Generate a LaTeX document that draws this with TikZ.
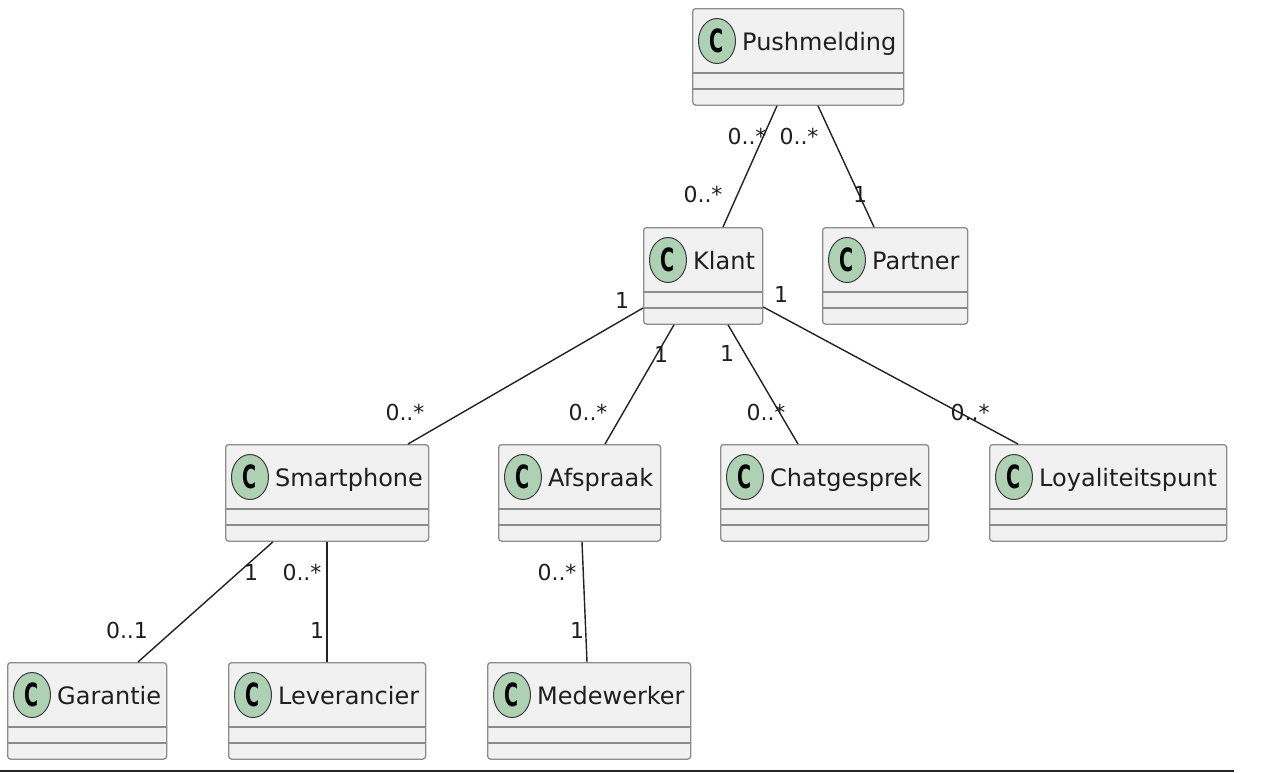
\documentclass[tikz,border=0pt]{standalone}
\usepackage{fontspec}
\setmainfont{DejaVu Sans}
\usetikzlibrary{shapes.geometric,calc}
\definecolor{boxfill}{HTML}{F1F1F1}
\definecolor{boxline}{HTML}{8C8C8C}
\definecolor{circfill}{HTML}{ADD1B2}
\definecolor{circline}{HTML}{3A3A3A}
\definecolor{edgecol}{HTML}{222222}
\tikzset{
  classbox/.style={draw=boxline, fill=boxfill, line width=1.3pt, rounded corners=3pt,
    inner sep=0pt, minimum height=96.5pt, anchor=north west},
  divline/.style={draw=boxline, line width=1.3pt},
  circ/.style={ellipse, draw=circline, fill=circfill, line width=1pt, inner sep=0pt,
    minimum width=37pt, minimum height=45pt,
    font=\fontsize{32}{32}\selectfont\bfseries},
  cname/.style={inner sep=0pt, anchor=base west, text=black!88,
    font=\fontsize{24}{28}\selectfont},
  lab/.style={inner sep=0pt, text=black!88, font=\fontsize{22}{26}\selectfont},
  assoc/.style={draw=edgecol, line width=1.4pt},
}
\newcommand\umlclass[5]{%
  \node[classbox, minimum width=#4pt] (#1) at (#2,#3) {};
  \draw[divline] ([yshift=-65pt]#1.north west) -- ([yshift=-65pt]#1.north east);
  \draw[divline] ([yshift=-81pt]#1.north west) -- ([yshift=-81pt]#1.north east);
  \node[circ] (#1c) at ([xshift=25pt,yshift=-33pt]#1.north west) {\scalebox{0.6}[1]{C}};
  \node[cname] (#1t) at ([xshift=50pt,yshift=-42pt]#1.north west) {#5};
}
\begin{document}
\begin{tikzpicture}[x=1pt,y=-1pt]
\useasboundingbox (0,0) rectangle (1270,772);

\umlclass{push}{692}{8}{211}{Pushmelding}
\umlclass{klant}{643}{227}{119}{Klant}
\umlclass{partner}{822}{227}{145}{Partner}
\umlclass{smart}{225}{444}{203}{Smartphone}
\umlclass{afspr}{498}{444}{162}{Afspraak}
\umlclass{chat}{720}{444}{208}{Chatgesprek}
\umlclass{loyal}{989}{444}{237}{Loyaliteitspunt}
\umlclass{gar}{7}{662}{159}{Garantie}
\umlclass{lev}{228}{662}{197}{Leverancier}
\umlclass{mede}{487}{662}{203}{Medewerker}

% connectors
\draw[assoc] ([xshift=85pt]push.south west) -- ([xshift=80pt]klant.north west);
\draw[assoc] ([xshift=126pt]push.south west) -- ([xshift=52pt]partner.north west);
\draw[assoc] ([yshift=-81pt]klant.north west) -- ([xshift=183pt]smart.north west);
\draw[assoc] ([xshift=31pt]klant.south west) -- ([xshift=107pt]afspr.north west);
\draw[assoc] ([xshift=85pt]klant.south west) -- ([xshift=78pt]chat.north west);
\draw[assoc] ([yshift=-80pt]klant.north east) -- ([xshift=29pt]loyal.north west);
\draw[assoc] ([xshift=48pt]smart.south west) -- ([xshift=131pt]gar.north west);
\draw[assoc] ([xshift=102pt]smart.south west) -- ([xshift=99pt]lev.north west);
\draw[assoc] ([xshift=84pt]afspr.south west) -- ([xshift=100pt]mede.north west);

% multiplicities
\node[lab] (m1) at (747,136) {0..*};
\node[lab] (m2) at (703,194) {0..*};
\node[lab] (m3) at (799,136) {0..*};
\node[lab] (m4) at (860,194) {1};
\node[lab] (m5) at (622,300) {1};
\node[lab] (m6) at (405,412) {0..*};
\node[lab] (m7) at (661,354) {1};
\node[lab] (m8) at (588,412) {0..*};
\node[lab] (m9) at (727,353) {1};
\node[lab] (m10) at (766,412) {0..*};
\node[lab] (m11) at (781,294) {1};
\node[lab] (m12) at (970,412) {0..*};
\node[lab] (m13) at (251,572) {1};
\node[lab] (m14) at (127,630) {0..1};
\node[lab] (m15) at (302,572) {0..*};
\node[lab] (m16) at (317,630) {1};
\node[lab] (m17) at (557,572) {0..*};
\node[lab] (m18) at (577,630) {1};

% bottom rule
\draw[line width=2pt, black!85] (0,771) -- (1234,771);
\end{tikzpicture}
\end{document}
